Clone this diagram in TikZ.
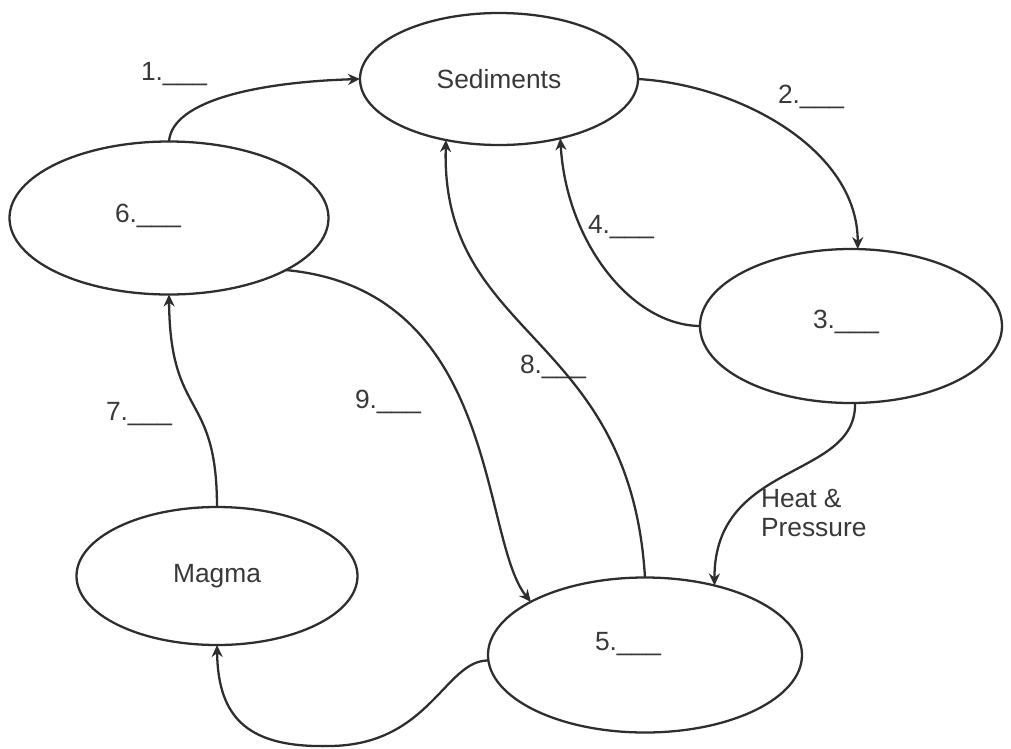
\documentclass[tikz,border=0pt]{standalone}
\usepackage{fontspec}
\setmainfont{Liberation Sans}
\usetikzlibrary{arrows.meta,positioning,shapes.geometric}
\definecolor{linegray}{HTML}{2E2E2E}
\definecolor{textgray}{HTML}{383838}

\begin{document}
\begin{tikzpicture}[
  x=0.2mm, y=-0.2mm,
  every node/.style={inner sep=0pt, outer sep=0pt, text=textgray, font=\fontsize{15}{16.5}\selectfont},
  stage/.style={draw=linegray, line width=1.3pt, ellipse},
  blank/.style={anchor=base west},
  arr/.style={-{Stealth[length=2.4mm, width=2.2mm]}, draw=linegray, line width=1.3pt},
]
  \useasboundingbox (0,0) rectangle (1011,748);

  % Rock stages
  \node[stage, minimum width=55.6mm, minimum height=26.4mm] (sed) at (499,79) {Sediments};
  \node[stage, minimum width=63.8mm, minimum height=30.6mm] (s6) at (169,218) {};
  \node[stage, minimum width=60.4mm, minimum height=30.8mm] (s3) at (851,326) {};
  \node[stage, minimum width=56.2mm, minimum height=27.6mm] (magma) at (217,576) {Magma};
  \node[stage, minimum width=62.8mm, minimum height=31mm] (s5) at (645,655) {};

  % Blanks to fill in
  \node[blank] (l1) at (141,80) {1.\_\_\_};
  \node[blank] (l2) at (778,103) {2.\_\_\_};
  \node[blank] (l3) at (813,328) {3.\_\_\_};
  \node[blank] (l4) at (588,233) {4.\_\_\_};
  \node[blank] (l5) at (595,650) {5.\_\_\_};
  \node[blank] (l6) at (115,222) {6.\_\_\_};
  \node[blank] (l7) at (106,420) {7.\_\_\_};
  \node[blank] (l8) at (520,373) {8.\_\_\_};
  \node[blank] (l9) at (355,408) {9.\_\_\_};
  \node[anchor=north west, align=left] (lheat) at (761,489) {Heat \&\\Pressure};

  % Cycle arrows
  \draw[arr] (s6.north) .. controls (172,100) and (260,82) .. (sed.west);
  \draw[arr] (sed.east) .. controls (740,85) and (858,150) .. (s3.85);
  \draw[arr] (s3.west) .. controls (630,325) and (566,240) .. (sed.-44);
  \draw[arr] (s3.-87) .. controls (857,480) and (714,460) .. (s5.45);
  \draw[arr] (s5.north) .. controls (630,330) and (440,340) .. (sed.229);
  \draw[arr] (s6.-24.5) .. controls (500,290) and (480,540) .. (s5.155);
  \draw[arr] (s5.182) .. controls (445,660) and (430,745) .. (330,746)
    .. controls (250,748) and (218,720) .. (magma.south);
  \draw[arr] (magma.north) .. controls (217,390) and (170,420) .. (s6.south);
\end{tikzpicture}
\end{document}
